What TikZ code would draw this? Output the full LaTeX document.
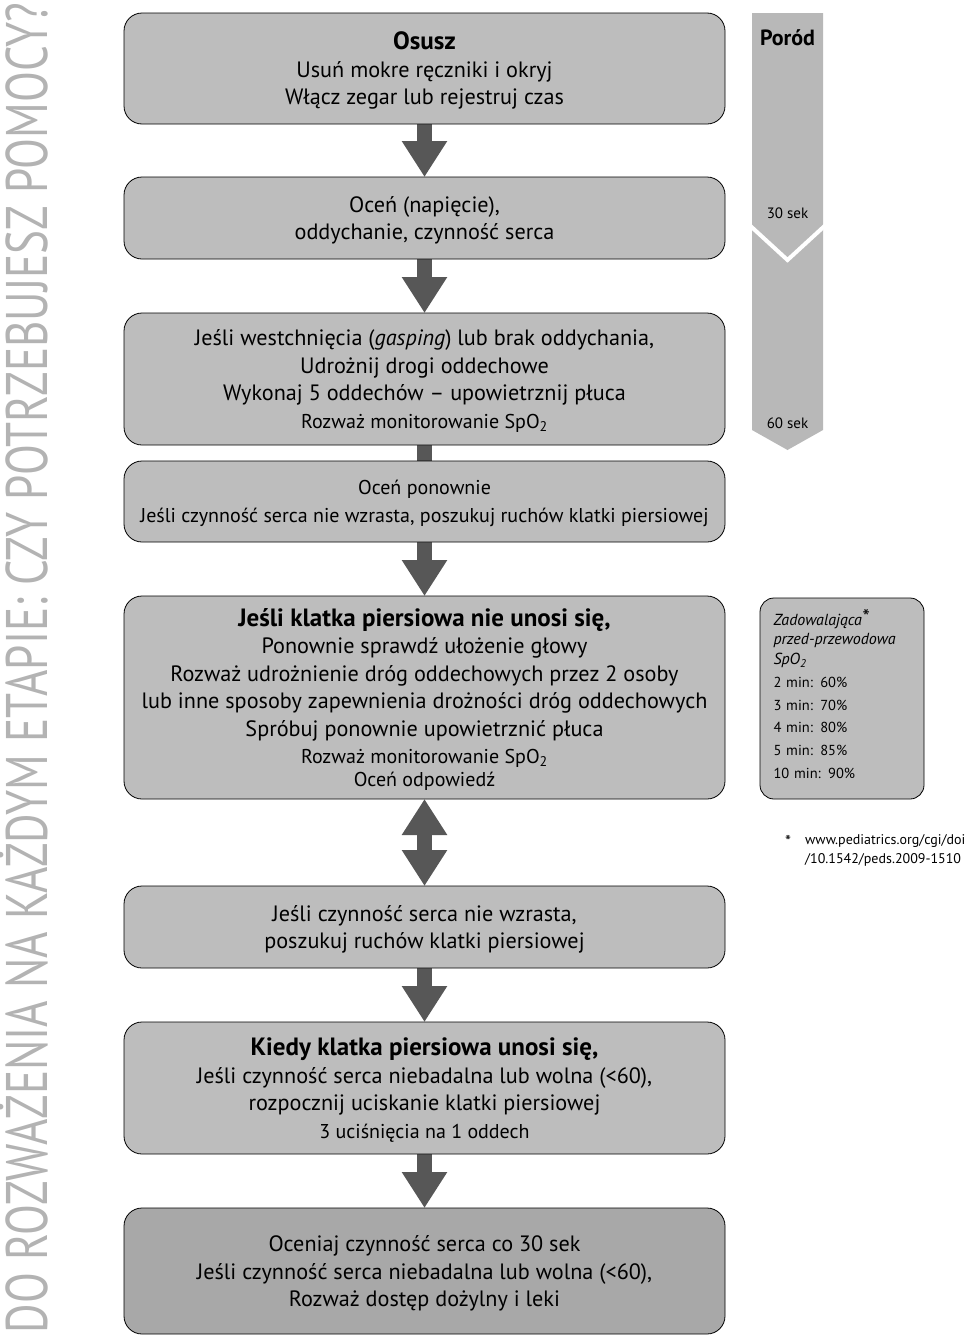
\documentclass[tikz,border=0pt]{standalone}
\usepackage{fontspec}
\setmainfont{PT Sans}
\usetikzlibrary{arrows.meta, positioning, backgrounds}

\definecolor{boxgrey}{HTML}{BDBDBD}
\definecolor{darkbox}{HTML}{A8A8A8}
\definecolor{arrowgrey}{HTML}{575757}
\definecolor{timegrey}{HTML}{B8B8B8}
\definecolor{sidegrey}{HTML}{B3B3B3}

\newcommand{\minor}[1]{{\fontsize{20}{27.5}\selectfont #1}}
\newcommand{\major}[1]{{\fontsize{25}{27.5}\selectfont\bfseries #1}}

\begin{document}
\begin{tikzpicture}[x=1pt, y=-1pt,
                    node distance=54pt,
                    block/.style={rectangle, draw, line width=0.8pt, fill=boxgrey, minimum width=601pt, rounded corners=18pt, align=center, inner sep=0pt, outer sep=0pt, text depth=-3pt, font=\fontsize{22.2}{27.5}\selectfont},
                    arrow/.style={arrowgrey, line width=15pt, -{Triangle[width=43pt, length=36pt]}},
                    twoway/.style={arrowgrey, line width=15pt, {Triangle[width=43pt, length=36pt]}-{Triangle[width=43pt, length=36pt]}},
                    link/.style={arrowgrey, line width=15pt},
                    small/.style={font=\fontsize{15}{16}\selectfont, inner sep=0pt}
                ]
                \useasboundingbox (0,0) rectangle (965,1336);

                \node[block, minimum height=111pt] (dry) at (424.5,68.5) {\major{Osusz}\\ Usuń mokre ręczniki i okryj\\ Włącz zegar lub rejestruj czas};
                \node[block, minimum height=82pt, below=53pt of dry] (assess) {Oceń (napięcie),\\ oddychanie, czynność serca};
                \node[block, minimum height=132pt, below=of assess] (breaths) {Jeśli westchnięcia (\textit{gasping}) lub brak oddychania,\\ Udrożnij drogi oddechowe\\ Wykonaj 5 oddechów – upowietrznij płuca\\ \minor{Rozważ monitorowanie SpO\textsubscript{2}}};
                \node[block, minimum height=81pt, below=16pt of breaths] (reassess) {\minor{Oceń ponownie}\\ \minor{Jeśli czynność serca nie wzrasta, poszukuj ruchów klatki piersiowej}};
                \node[block, minimum height=203pt, text depth=1pt, below=of reassess] (chest) {\major{Jeśli klatka piersiowa nie unosi się,}\\ Ponownie sprawdź ułożenie głowy\\ Rozważ udrożnienie dróg oddechowych przez 2 osoby\\ lub inne sposoby zapewnienia drożności dróg oddechowych\\ Spróbuj ponownie upowietrznić płuca\\ \minor{Rozważ monitorowanie SpO\textsubscript{2}}\\[-5pt] \minor{Oceń odpowiedź}};
                \node[block, minimum height=82pt, below=87pt of chest] (heart) {Jeśli czynność serca nie wzrasta,\\ poszukuj ruchów klatki piersiowej};
                \node[block, minimum height=132pt, below=of heart] (compress) {\major{Kiedy klatka piersiowa unosi się,}\\ Jeśli czynność serca niebadalna lub wolna (<60),\\ rozpocznij uciskanie klatki piersiowej\\ \minor{3 uciśnięcia na 1 oddech}};
                \node[block, fill=darkbox, minimum height=126pt, text depth=-5pt, below=of compress] (drugs) {Oceniaj czynność serca co 30 sek\\ Jeśli czynność serca niebadalna lub wolna (<60),\\ Rozważ dostęp dożylny i leki};

                \begin{scope}[on background layer]
                \draw[arrow] (dry) -- (assess);
                \draw[arrow] (assess) -- (breaths);
                \draw[link] (breaths) -- (reassess);
                \draw[arrow] (reassess) -- (chest);
                \draw[twoway] (chest) -- (heart);
                \draw[arrow] (heart) -- (compress);
                \draw[arrow] (compress) -- (drugs);
                \end{scope}

                % time line
                \fill[timegrey] (752,13) -- (823,13) -- (823,430) -- (787.5,450) -- (752,430) -- cycle;
                \draw[white, line width=4pt] (745,221) -- (787.5,260) -- (830,221);
                \node[font=\bfseries\fontsize{22}{24}\selectfont] (birth) at (787.5,38) {Poród};
                \node[small] (t30) at (787.5,213) {30 sek};
                \node[small] (t60) at (787.5,423) {60 sek};

                \node[rectangle, draw, line width=0.8pt, fill=boxgrey, minimum width=164pt, minimum height=201pt, rounded corners=14pt] (sat) at (842,698.5) {};
                \node[text width=137pt, align=left, inner sep=0pt, font=\fontsize{14.5}{22.8}\selectfont] (satlist) at ([yshift=4.5pt]sat.center) {\fontsize{16}{22.8}\selectfont\itshape Zadowalająca\raisebox{1pt}{\fontsize{21}{22}\selectfont *}\\[-3.5pt] przed-przewodowa\\[-3pt] SpO\textsubscript{2}\\ \upshape\fontsize{14.5}{22.8}\selectfont 2 min: 60\%\\ 3 min: 70\%\\ 4 min: 80\%\\ 5 min: 85\%\\ 10 min: 90\%};
                \node[small, anchor=north west, align=left, font=\fontsize{14}{19}\selectfont] (doi) at (805,834) {www.pediatrics.org/cgi/doi\\ /10.1542/peds.2009-1510};
                \node[small, font=\fontsize{17}{18}\selectfont] (star) at (788,841) {*};

                \node[rotate=90, anchor=base, inner sep=0pt, text=sidegrey] (help) at (47,668) {\resizebox{1330pt}{!}{\scalebox{1}[1.3]{\fontsize{40}{40}\selectfont DO ROZWAŻENIA NA KAŻDYM ETAPIE: CZY POTRZEBUJESZ POMOCY?}}};
                \end{tikzpicture}
\end{document}
